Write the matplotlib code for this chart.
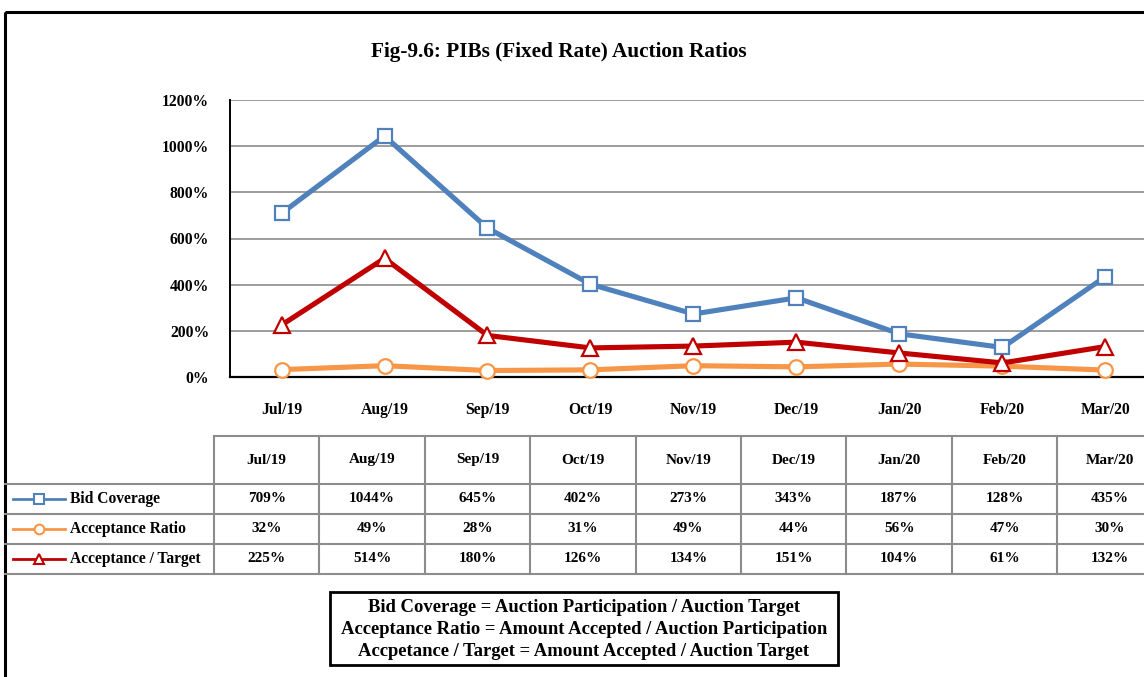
import matplotlib.pyplot as plt
from matplotlib.lines import Line2D
from matplotlib.patches import Rectangle

months = ["Jul/19", "Aug/19", "Sep/19", "Oct/19", "Nov/19", "Dec/19", "Jan/20", "Feb/20", "Mar/20"]
bid_coverage = [709, 1044, 645, 402, 273, 343, 187, 128, 435]
acceptance_ratio = [32, 49, 28, 31, 49, 44, 56, 47, 30]
acceptance_target = [225, 514, 180, 126, 134, 151, 104, 61, 132]
series_names = ["Bid Coverage", "Acceptance Ratio", "Acceptance / Target"]
notes = ["Bid Coverage = Auction Participation / Auction Target",
         "Acceptance Ratio = Amount Accepted / Auction Participation",
         "Accpetance / Target = Amount Accepted / Auction Target"]

BLUE = "#4F81BD"
ORANGE = "#F79646"
RED = "#C00000"
GRID = "#8C8C8C"
FONT = "Liberation Serif"

W, H = 1144, 677
fig = plt.figure(figsize=(W / 100, H / 100), dpi=100)

# overlay in pixel coordinates for frame / table / note box
ov = fig.add_axes([0, 0, 1, 1])
ov.set_xlim(0, W)
ov.set_ylim(H, 0)
ov.axis("off")

# outer frame (right & bottom edges fall outside the picture)
ov.add_patch(Rectangle((5, 12), 1200, 700, fill=False, ec="black", lw=2.2))

ov.text(559, 52, "Fig-9.6: PIBs (Fixed Rate) Auction Ratios", ha="center", va="center",
        fontsize=15.3, fontweight="bold", family=FONT)

# chart
x0, x_step = 230, 103
ax = fig.add_axes([x0 / W, (H - 377) / H, 9 * x_step / W, 277 / H])
ax.set_zorder(2)
ax.patch.set_alpha(0)
xs = range(len(months))
styles = [(bid_coverage, BLUE, "s", 10), (acceptance_ratio, ORANGE, "o", 10.5), (acceptance_target, RED, "^", 11)]
for vals, col, mk, ms in styles:
    ax.plot(xs, vals, color=col, lw=3.7, marker=mk, ms=ms, mfc="white", mec=col, mew=1.6,
            clip_on=False, zorder=3)
ax.set_xlim(-0.5, len(months) - 0.5)
ax.set_ylim(0, 1200)
ax.set_yticks(range(0, 1201, 200))
ax.set_yticklabels([f"{v}%" for v in range(0, 1201, 200)])
ax.set_xticks(list(xs))
ax.set_xticklabels(months)
ax.yaxis.grid(True, color=GRID, lw=1.2)
ax.set_axisbelow(True)
for s in ["top", "right"]:
    ax.spines[s].set_visible(False)
ax.spines["left"].set_linewidth(1.4)
ax.spines["bottom"].set_linewidth(1.6)
ax.tick_params(length=0)
ax.tick_params(axis="y", pad=15)
ax.tick_params(axis="x", pad=18)
for lab in ax.get_xticklabels() + ax.get_yticklabels():
    lab.set_fontweight("bold")
    lab.set_fontsize(11.3)
    lab.set_family(FONT)

# data table
col_left, col_w = 214, 105.4
row_tops = [436, 484, 514, 544, 574]
n = len(months)
right = col_left + n * col_w
ov.plot([col_left, right], [row_tops[0]] * 2, color=GRID, lw=1.5)
for y in row_tops[1:]:
    ov.plot([5, right], [y, y], color=GRID, lw=1.5)
for i in range(n + 1):
    xv = col_left + i * col_w
    ov.plot([xv, xv], [row_tops[0], row_tops[-1]], color=GRID, lw=1.5)

txt = dict(ha="center", va="center", fontsize=11, fontweight="bold", family=FONT)
for i, m in enumerate(months):
    cx = col_left + (i + 0.5) * col_w
    ov.text(cx, (row_tops[0] + row_tops[1]) / 2, m, **txt)
    for r, vals in enumerate([bid_coverage, acceptance_ratio, acceptance_target]):
        ov.text(cx, (row_tops[r + 1] + row_tops[r + 2]) / 2, f"{vals[i]}%", **txt)

for r, (name, (vals, col, mk, ms)) in enumerate(zip(series_names, styles)):
    cy = (row_tops[r + 1] + row_tops[r + 2]) / 2
    ov.add_line(Line2D([13, 65], [cy, cy], color=col, lw=2))
    ov.plot([39], [cy], marker=mk, ms=7, mfc="white", mec=col, mew=1.5, color=col)
    ov.text(70, cy, name, ha="left", va="center", fontsize=11.2, fontweight="bold", family=FONT)

# definitions box
ov.add_patch(Rectangle((330, 592), 508, 73, fill=False, ec="black", lw=2))
note_txt = dict(txt, fontsize=13.4)
for k, line in enumerate(notes):
    ov.text(584, 607 + k * 22, line, **note_txt)

fig.savefig("out.png", dpi=100)
